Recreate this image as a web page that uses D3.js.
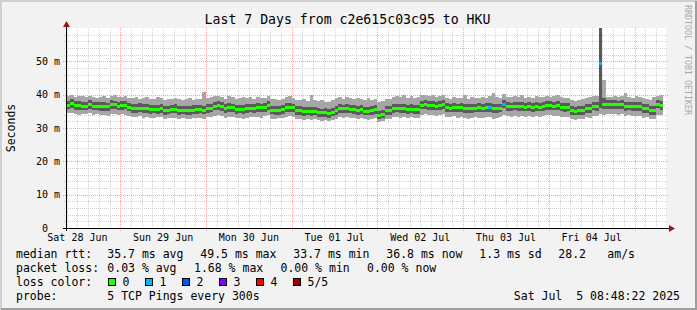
<!DOCTYPE html>
<html lang="en">
<head>
<meta charset="UTF-8">
<title>Last 7 Days from c2e615c03c95 to HKU</title>
<script src="https://d3js.org/d3.v7.min.js"></script>
<style>
    body { margin: 0; background: #f2f2f2; }
    svg { display: block; font-family: 'DejaVu Sans Mono', monospace; }
</style>
</head>
<body>
<svg id="chart" width="697" height="310"></svg>
<script>
// --- Data ---
const title = "Last 7 Days from c2e615c03c95 to HKU";
const endTime = Date.UTC(2025, 6, 5, 8, 48, 22);
const startTime = endTime - 7 * 24 * 3600e3;
const firstBin = Date.UTC(2025, 5, 28, 9, 0, 0); // hourly bins

// median rtt per hour, ms
const median = [
    36.9, 37.4, 36.9, 36.7, 36.6, 36.6, 37.2, 36.6, 36.6, 36.4,
    36.4, 36.4, 37.1, 37.0, 36.6, 36.9, 36.9, 36.3, 35.9, 35.9,
    36.0, 35.9, 35.9, 35.7, 35.7, 35.6, 35.9, 35.3, 35.3, 35.7,
    35.7, 35.3, 35.3, 35.3, 35.3, 35.4, 35.6, 35.6, 35.4, 35.9,
    35.9, 36.6, 36.7, 36.4, 35.9, 36.1, 36.1, 35.6, 35.7, 35.6,
    35.9, 36.0, 35.9, 36.1, 36.1, 36.1, 36.8, 35.4, 35.4, 35.3,
    35.5, 36.1, 36.2, 36.1, 35.3, 35.2, 35.0, 35.1, 34.9, 35.1,
    34.6, 34.6, 34.6, 34.3, 34.8, 35.3, 35.9, 35.8, 35.9, 35.7,
    35.6, 35.3, 35.5, 35.1, 35.1, 35.2, 35.6, 33.7, 34.2, 35.3,
    35.2, 35.9, 36.0, 35.9, 35.8, 35.6, 35.7, 35.5, 35.6, 36.9,
    37.0, 36.7, 36.8, 36.6, 36.8, 37.0, 36.1, 36.0, 36.2, 36.1,
    36.1, 35.9, 35.8, 35.9, 36.0, 36.1, 36.0, 36.1, 36.2, 35.9,
    35.9, 36.0, 37.2, 36.4, 36.4, 36.6, 36.4, 36.5, 36.3, 36.4,
    36.2, 36.4, 36.3, 36.5, 36.7, 36.8, 36.6, 36.7, 36.3, 36.2,
    36.3, 35.2, 35.1, 35.2, 35.3, 35.9, 35.8, 36.6, 36.5, 49.5,
    37.1, 37.0, 37.1, 37.1, 37.0, 37.1, 36.5, 36.6, 36.4, 36.5,
    36.5, 35.8, 35.9, 35.3, 35.2, 37.2, 36.8
];

// slowest of the 5 pings
const pingMax = [
    39.6, 39.8, 39.2, 39.5, 39.6, 39.3, 39.7, 39.4, 39.0, 39.3,
    39.5, 39.1, 39.6, 39.8, 39.2, 39.4, 39.5, 39.0, 38.9, 39.2,
    38.8, 39.1, 39.3, 38.7, 38.6, 39.2, 38.9, 38.5, 38.8, 38.6,
    39.1, 38.7, 38.4, 38.6, 38.9, 38.3, 38.8, 38.6, 40.7, 38.9,
    39.2, 39.5, 39.7, 39.3, 38.8, 39.6, 39.2, 38.7, 38.9, 39.4,
    39.0, 39.2, 38.8, 39.4, 39.1, 38.9, 39.5, 38.6, 38.8, 38.4,
    38.7, 39.3, 39.6, 39.1, 38.5, 38.3, 38.6, 38.2, 39.9, 38.4,
    38.0, 38.3, 37.9, 37.8, 38.4, 38.9, 39.2, 38.8, 39.4, 38.9,
    38.6, 39.0, 38.7, 38.5, 38.9, 38.4, 38.8, 37.9, 38.2, 38.6,
    38.8, 39.3, 39.6, 39.2, 39.8, 39.0, 39.7, 38.9, 39.3, 39.9,
    39.8, 39.5, 40.0, 39.4, 39.7, 39.9, 39.0, 38.8, 39.3, 39.1,
    38.9, 39.9, 38.8, 39.2, 39.0, 38.9, 39.4, 39.1, 39.6, 40.5,
    39.3, 39.0, 40.1, 39.4, 39.2, 39.6, 39.3, 39.8, 39.1, 39.4,
    39.0, 39.5, 39.2, 39.4, 39.7, 39.3, 39.6, 39.8, 39.2, 39.0,
    39.1, 38.3, 38.0, 38.4, 38.6, 38.9, 39.2, 39.5, 39.7, 72.0,
    44.5, 39.4, 39.3, 39.5, 39.2, 39.6, 40.4, 39.3, 39.1, 39.5,
    39.2, 38.9, 38.6, 38.5, 39.3, 39.6, 39.9
];

// 4th of the 5 pings
const ping4 = [
    38.2, 38.6, 38.1, 38.0, 37.9, 37.8, 38.4, 37.9, 37.7, 37.8,
    37.9, 37.6, 38.3, 38.2, 37.8, 38.1, 38.0, 37.5, 37.2, 37.3,
    37.4, 37.1, 37.2, 36.9, 37.0, 36.9, 37.2, 36.6, 36.7, 37.0,
    37.1, 36.6, 36.5, 36.7, 36.6, 36.8, 36.9, 36.8, 36.7, 37.3,
    37.2, 37.9, 38.0, 37.7, 37.1, 37.5, 37.3, 36.9, 37.0, 36.8,
    37.2, 37.3, 37.1, 37.4, 37.3, 37.4, 38.1, 36.7, 36.6, 36.5,
    36.8, 37.4, 37.5, 37.3, 36.6, 36.5, 36.3, 36.4, 36.3, 36.4,
    35.9, 35.8, 35.9, 35.6, 36.1, 36.6, 37.2, 37.0, 37.2, 36.9,
    36.9, 36.6, 36.8, 36.4, 36.3, 36.5, 36.9, 35.2, 35.5, 36.6,
    36.5, 37.2, 37.3, 37.1, 37.2, 36.9, 37.1, 36.8, 36.9, 38.2,
    38.3, 38.0, 38.1, 37.9, 38.1, 38.3, 37.4, 37.2, 37.5, 37.3,
    37.4, 37.2, 37.1, 37.2, 37.3, 37.4, 37.3, 37.4, 37.6, 37.3,
    37.2, 37.3, 38.4, 37.7, 37.6, 37.9, 37.7, 37.8, 37.5, 37.7,
    37.5, 37.7, 37.6, 37.8, 38.0, 38.1, 37.9, 38.0, 37.6, 37.5,
    37.6, 36.5, 36.4, 36.5, 36.6, 37.2, 37.1, 37.9, 37.8, 72.0,
    38.9, 38.3, 38.4, 38.3, 38.2, 38.4, 37.8, 37.9, 37.7, 37.8,
    37.8, 37.1, 37.2, 36.6, 36.5, 38.4, 38.1
];

// 2nd of the 5 pings
const ping2 = [
    35.6, 35.9, 35.5, 35.4, 35.3, 35.4, 35.8, 35.3, 35.4, 35.1,
    35.2, 35.0, 35.7, 35.6, 35.3, 35.5, 35.6, 35.0, 34.6, 34.5,
    34.7, 34.5, 34.6, 34.3, 34.4, 34.3, 34.6, 34.0, 34.1, 34.4,
    34.4, 34.0, 34.1, 34.0, 33.9, 34.1, 34.3, 34.4, 34.1, 34.6,
    34.7, 35.3, 35.4, 35.1, 34.6, 34.8, 34.9, 34.3, 34.4, 34.2,
    34.6, 34.7, 34.6, 34.8, 34.7, 34.9, 35.5, 34.1, 34.0, 34.0,
    34.2, 34.8, 34.9, 34.8, 34.0, 33.9, 33.7, 33.8, 33.6, 33.8,
    33.3, 33.2, 33.4, 33.0, 33.5, 34.0, 34.6, 34.5, 34.6, 34.4,
    34.3, 34.0, 34.2, 33.8, 33.8, 33.9, 34.3, 32.6, 33.0, 34.0,
    33.9, 34.6, 34.7, 34.6, 34.5, 34.3, 34.4, 34.2, 34.3, 35.6,
    35.7, 35.4, 35.5, 35.3, 35.5, 35.7, 34.8, 34.7, 34.9, 34.8,
    34.8, 34.6, 34.5, 34.6, 34.7, 34.8, 34.7, 34.8, 34.9, 34.6,
    34.6, 34.7, 35.9, 35.1, 35.1, 35.3, 35.1, 35.2, 35.0, 35.1,
    34.9, 35.1, 35.0, 35.2, 35.4, 35.5, 35.3, 35.4, 35.0, 34.9,
    35.0, 33.9, 33.8, 33.9, 34.0, 34.6, 34.5, 35.3, 35.2, 36.0,
    35.8, 35.7, 35.8, 35.8, 35.7, 35.8, 35.2, 35.3, 35.1, 35.2,
    35.2, 34.5, 34.6, 34.0, 33.9, 35.9, 35.5
];

// fastest of the 5 pings
const pingMin = [
    34.4, 34.6, 34.2, 34.0, 34.3, 34.1, 34.5, 33.9, 34.2, 33.8,
    34.0, 33.7, 34.3, 34.1, 33.9, 34.2, 34.0, 33.6, 33.4, 33.2,
    33.5, 33.1, 33.3, 33.0, 32.9, 33.2, 33.4, 32.8, 32.9, 33.1,
    33.0, 32.7, 32.9, 32.8, 32.6, 33.0, 32.9, 33.1, 32.8, 33.2,
    33.4, 33.6, 33.8, 33.5, 33.1, 33.3, 33.4, 32.9, 33.0, 32.8,
    33.1, 33.3, 33.2, 33.4, 33.0, 33.5, 33.8, 32.8, 32.7, 32.9,
    33.0, 33.4, 33.5, 33.2, 32.7, 32.6, 32.4, 32.8, 32.5, 32.7,
    32.3, 32.2, 32.4, 32.0, 32.5, 32.8, 33.2, 33.0, 33.3, 33.1,
    32.9, 32.7, 33.0, 32.6, 32.5, 32.8, 33.0, 31.9, 32.2, 32.7,
    32.8, 33.2, 33.4, 33.1, 33.3, 33.0, 33.2, 32.9, 33.1, 34.0,
    34.1, 33.8, 34.0, 33.7, 33.9, 34.2, 33.3, 33.2, 33.5, 33.0,
    33.2, 32.9, 32.8, 33.1, 33.3, 33.0, 32.9, 33.2, 33.4, 32.8,
    33.0, 33.2, 33.9, 33.5, 33.3, 33.7, 33.4, 33.6, 33.2, 33.5,
    33.3, 33.5, 33.2, 33.6, 33.8, 33.9, 33.6, 33.7, 33.3, 33.2,
    33.4, 32.6, 32.5, 32.7, 32.8, 33.2, 33.1, 33.6, 33.5, 34.2,
    34.0, 34.1, 34.3, 34.2, 34.0, 34.3, 33.6, 33.8, 33.5, 33.7,
    33.6, 33.0, 33.2, 32.7, 32.6, 34.0, 33.8
];

// hours with packet loss (bin index, pings lost)
const lossBins = [118, 122, 149];
const lossCounts = [1, 1, 1];

const lossColors = ["#26ff00", "#00b8ff", "#0059ff", "#7e00ff", "#ff0000", "#a10000"];
const lossLabels = ["0", "1", "2", "3", "4", "5/5"];

const yTicks = [0, 10, 20, 30, 40, 50];
const yTickLabels = ["0\u00a0\u00a0", "10 m", "20 m", "30 m", "40 m", "50 m"];

const rttStats = ["35.7 ms avg", "49.5 ms max", "33.7 ms min", "36.8 ms now", "1.3 ms sd", "28.2", "am/s"];
const lossStats = ["0.03 % avg", "1.68 % max", "0.00 % min", "0.00 % now"];
const probeText = "5 TCP Pings every 300s";
const stampText = "Sat Jul  5 08:48:22 2025";

// --- Layout ---
const W = 697, H = 310;
const plot = { left: 66, right: 666, top: 28, bottom: 228 };
const gray = { light: "#a6a6a6", dark: "#5a5a5a" };

const svg = d3.select("#chart");

const x = d3.scaleUtc().domain([startTime, endTime]).range([plot.left, plot.right]);
const y = d3.scaleLinear().domain([0, 60]).range([plot.bottom, plot.top]);

const binStart = i => new Date(firstBin + i * 3600e3);
const binEnd = i => new Date(firstBin + (i + 1) * 3600e3);

// frame
svg.append("rect").attr("width", W).attr("height", H).attr("fill", "#f2f2f2");
svg.append("path").attr("d", `M0,${H} V0 H${W}`).attr("fill", "none")
    .attr("stroke", "#cfcfcf").attr("stroke-width", 4);
svg.append("path").attr("d", `M1,${H - 1} H${W - 1} V1`).attr("fill", "none")
    .attr("stroke", "#9e9e9e").attr("stroke-width", 2);

svg.append("rect")
    .attr("x", plot.left).attr("y", plot.top)
    .attr("width", plot.right - plot.left).attr("height", plot.bottom - plot.top)
    .attr("fill", "#ffffff");

// grid
const grid = svg.append("g").attr("shape-rendering", "crispEdges");

const minorY = d3.range(2, 60, 2).filter(v => v % 10 !== 0);
grid.selectAll(".hminor").data(minorY).join("line")
    .attr("x1", plot.left - 2).attr("x2", plot.right + 2)
    .attr("y1", d => Math.round(y(d)) + 0.5).attr("y2", d => Math.round(y(d)) + 0.5)
    .attr("stroke", "#d2d2d2").attr("stroke-dasharray", "1,1");

const days = d3.utcDay.range(new Date(startTime), new Date(endTime));
const hours3 = d3.utcHour.every(3).range(new Date(startTime), new Date(endTime))
    .filter(d => d.getUTCHours() !== 0);

grid.selectAll(".vminor").data(hours3).join("line")
    .attr("x1", d => Math.round(x(d)) + 0.5).attr("x2", d => Math.round(x(d)) + 0.5)
    .attr("y1", plot.top).attr("y2", plot.bottom + 2)
    .attr("stroke", "#d2d2d2").attr("stroke-dasharray", "1,1");

grid.selectAll(".hmajor").data(yTicks.slice(1)).join("line")
    .attr("x1", plot.left - 3).attr("x2", plot.right + 3)
    .attr("y1", d => Math.round(y(d)) + 0.5).attr("y2", d => Math.round(y(d)) + 0.5)
    .attr("stroke", "#f3a3a3").attr("stroke-dasharray", "1,1");

grid.selectAll(".vmajor").data(days).join("line")
    .attr("x1", d => Math.round(x(d)) + 0.5).attr("x2", d => Math.round(x(d)) + 0.5)
    .attr("y1", plot.top).attr("y2", plot.bottom + 3)
    .attr("stroke", "#f3a3a3").attr("stroke-dasharray", "1,1");

// smoke + median
svg.append("clipPath").attr("id", "plotclip").append("rect")
    .attr("x", plot.left).attr("y", plot.top)
    .attr("width", plot.right - plot.left).attr("height", plot.bottom - plot.top);

const marks = svg.append("g").attr("clip-path", "url(#plotclip)").attr("shape-rendering", "crispEdges");
const bins = d3.range(median.length);

const band = (lo, hi, color) => marks.append("g").selectAll("rect").data(bins).join("rect")
    .attr("x", i => x(binStart(i)))
    .attr("width", i => x(binEnd(i)) - x(binStart(i)))
    .attr("y", i => y(hi[i]))
    .attr("height", i => y(lo[i]) - y(hi[i]))
    .attr("fill", color);

band(pingMin, pingMax, gray.light);
band(ping2, ping4, gray.dark);

const lossAt = new Map(lossBins.map((b, k) => [b, lossCounts[k]]));
const swidth = 0.45; // half thickness of the median marker, ms

marks.append("g").selectAll("rect").data(bins).join("rect")
    .attr("x", i => x(binStart(i)))
    .attr("width", i => x(binEnd(i)) - x(binStart(i)))
    .attr("y", i => y(median[i] + swidth))
    .attr("height", i => y(median[i] - swidth) - y(median[i] + swidth))
    .attr("fill", i => lossColors[lossAt.get(i) || 0]);

// axes
const axis = svg.append("g").attr("shape-rendering", "crispEdges");
axis.append("line")
    .attr("x1", plot.left - 3).attr("x2", plot.right + 4)
    .attr("y1", plot.bottom + 0.5).attr("y2", plot.bottom + 0.5)
    .attr("stroke", "#000");
axis.append("line")
    .attr("x1", plot.left + 0.5).attr("x2", plot.left + 0.5)
    .attr("y1", plot.bottom + 3).attr("y2", plot.top - 3)
    .attr("stroke", "#000");

const arrowColor = "#8b1a1a";
svg.append("path")
    .attr("d", `M${plot.left + 0.5},${plot.top - 7} l-3.5,6 h7 z`)
    .attr("fill", arrowColor);
svg.append("path")
    .attr("d", `M${plot.right + 9},${plot.bottom + 0.5} l-6,-3.5 v7 z`)
    .attr("fill", arrowColor);

// tick labels
const txt = (sel, size) => sel.attr("font-size", size).attr("fill", "#000");

svg.append("g").selectAll("text").data(yTicks).join("text")
    .attr("x", 60).attr("y", d => y(d) + 3.5)
    .attr("text-anchor", "end")
    .text((d, k) => yTickLabels[k])
    .call(txt, "10px");

const noons = days.map(d => d3.utcHour.offset(d, 12));
noons.unshift(d3.utcHour.offset(d3.utcDay.floor(new Date(startTime)), 12));
const fmt = d3.utcFormat("%a %d %b");

svg.append("g").selectAll("text").data(noons.filter(d => d < endTime)).join("text")
    .attr("x", d => x(d)).attr("y", 241)
    .attr("text-anchor", "middle")
    .text(d => fmt(d))
    .call(txt, "10px");

// titles
svg.append("text").attr("x", 347.5).attr("y", 24)
    .attr("text-anchor", "middle").text(title).call(txt, "13.2px");

svg.append("text")
    .attr("transform", "translate(15,128) rotate(-90)")
    .attr("text-anchor", "middle").text("Seconds").call(txt, "11.5px");

svg.append("text")
    .attr("transform", "translate(685,5) rotate(90)")
    .attr("font-size", "8.3px").attr("fill", "#a8a8a8")
    .text("RRDTOOL / TOBI OETIKER");

// legend
const legend = svg.append("g").attr("font-size", "11.5px").attr("fill", "#000");
const rowY = [258, 272, 286, 300];

legend.append("text").attr("x", 16).attr("y", rowY[0]).text("median rtt:");
const rttX = [107.3, 200.3, 293.3, 386.3, 479.3, 558.3, 607.3];
rttStats.forEach((s, k) => legend.append("text").attr("x", rttX[k]).attr("y", rowY[0]).text(s));

legend.append("text").attr("x", 16).attr("y", rowY[1]).text("packet loss:");
const lossX = [107.3, 194, 280.5, 367];
lossStats.forEach((s, k) => legend.append("text").attr("x", lossX[k]).attr("y", rowY[1]).text(s));

legend.append("text").attr("x", 16).attr("y", rowY[2]).text("loss color:");
lossColors.forEach((c, k) => {
    const bx = 108.5 + k * 37;
    legend.append("rect")
        .attr("x", bx).attr("y", rowY[2] - 7.5).attr("width", 7).attr("height", 7)
        .attr("fill", c).attr("stroke", "#000").attr("stroke-width", 1);
    legend.append("text").attr("x", bx + 14).attr("y", rowY[2]).text(lossLabels[k]);
});

legend.append("text").attr("x", 16).attr("y", rowY[3]).text("probe:");
legend.append("text").attr("x", 107.3).attr("y", rowY[3]).text(probeText);
legend.append("text").attr("x", 680).attr("y", rowY[3]).attr("text-anchor", "end")
    .attr("xml:space", "preserve").style("white-space", "pre").text(stampText);
</script>
</body>
</html>
